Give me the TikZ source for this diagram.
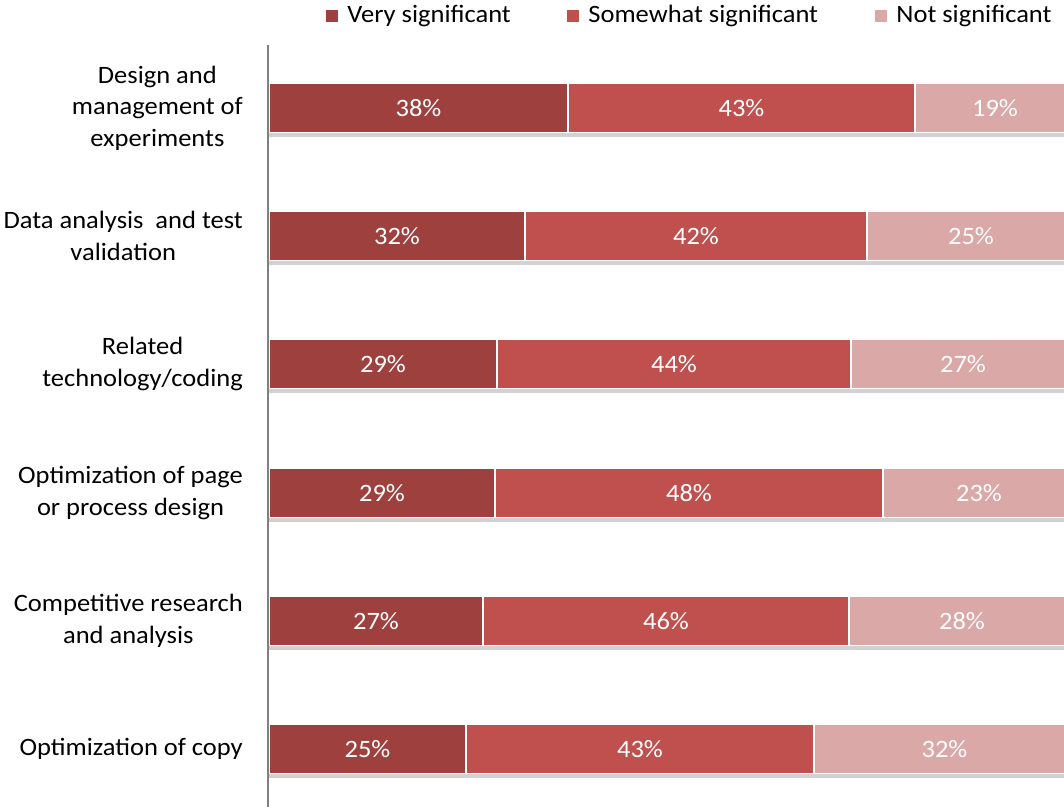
\documentclass[tikz,border=0pt]{standalone}
\usepackage{fontspec}
\setmainfont{Carlito}[FakeStretch=1.06]
\usetikzlibrary{positioning,shadows}
\definecolor{verysig}{RGB}{158,65,62}
\definecolor{somesig}{RGB}{192,80,77}
\definecolor{notsig}{RGB}{217,168,167}
\tikzset{every picture/.style={
  font=\fontsize{25}{31.5}\selectfont   % Calibri-like text.
  }
}

\begin{document}
\begin{tikzpicture}[
    x=1pt, y=-1pt,
    node distance=0pt,
    barpart/.style={
      rectangle,
      draw=white,
      line width=1.2pt,
      outer sep=0pt,
      inner sep=0pt,
      minimum height=49pt,
      text=white,
      drop shadow={shadow xshift=0pt,shadow yshift=-4pt,opacity=.25,fill=black!70}
    },
    catlabel/.style={
      align=center,
      inner sep=0pt,
      anchor=east
    },
    legbox/.style={
      rectangle,
      inner sep=0pt,
      minimum size=12pt
    },
    legtext/.style={
      inner sep=0pt,
      anchor=west
    }]

    \useasboundingbox (0,0) rectangle (1064,807);
    \clip (0,0) rectangle (1064,807);

    % Legend.
    \node[legbox,fill=verysig] (key1) at (332,16) {};
    \node[legtext,right=9pt of key1] (leg1) {Very significant};
    \node[legbox,fill=somesig] (key2) at (573,16) {};
    \node[legtext,right=9pt of key2] (leg2) {Somewhat significant};
    \node[legbox,fill=notsig] (key3) at (881,16) {};
    \node[legtext,right=9pt of key3] (leg3) {Not significant};

    % One stacked bar per category.
    \foreach \i/\lab/\yc/\ba/\bb/\va/\vb/\vc in {
        1/{Design and\\management of\\experiments}/108/568/915/38/43/19,
        2/{Data analysis\ \ and test\\validation}/236/525/867/32/42/25,
        3/{Related\\technology/coding}/364/497/851/29/44/27,
        4/{Optimization of page\\or process design}/493/495/883/29/48/23,
        5/{Competitive research\\and analysis}/621/483/849/27/46/28,
        6/{Optimization of copy}/749/466/814/25/43/32} {
      \node[barpart,fill=verysig,minimum width=\ba-269,anchor=west] (v\i)
        at (269,\yc) {\va\%};
      \node[barpart,fill=somesig,minimum width=\bb-\ba,right=of v\i] (s\i)
        {\vb\%};
      \node[barpart,fill=notsig,minimum width=1075-\bb,right=of s\i] (n\i)
        {\vc\%};
      \node[catlabel] (lab\i) at (243,\yc) {\lab};
    }

    % Category axis.
    \coordinate (axtop) at (268,45);
    \coordinate (axbot) at (268,807);
    \draw[black!50,line width=1.5pt] (axtop) -- (axbot);
  \end{tikzpicture}
\end{document}
